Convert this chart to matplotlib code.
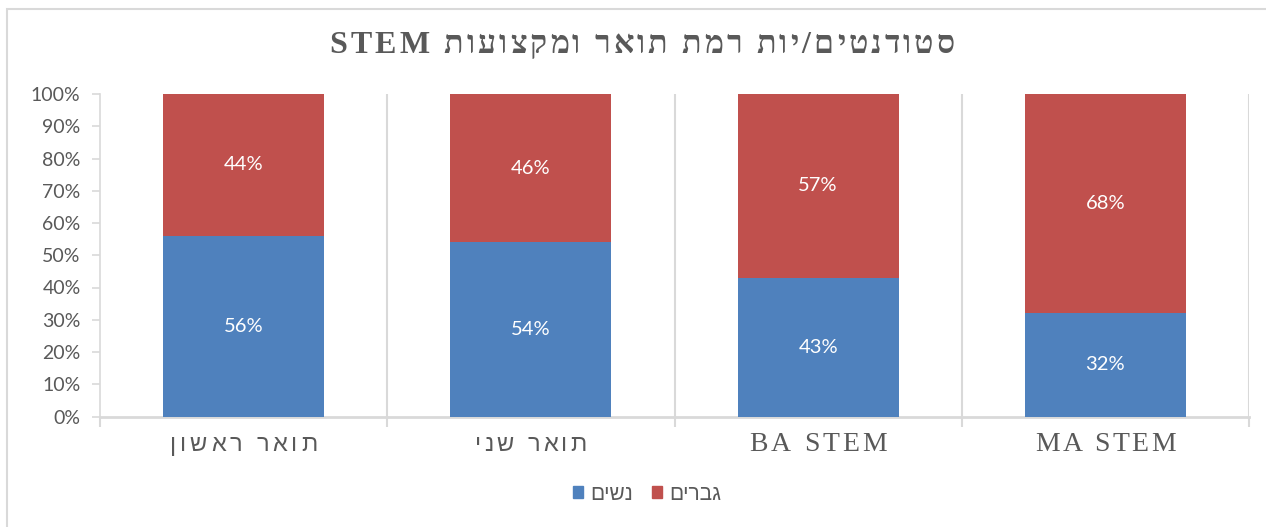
import matplotlib.pyplot as plt
from matplotlib.patches import Rectangle

# ================= Data =================
categories = ["תואר ראשון", "תואר שני", "BA STEM", "MA STEM"]
women = [56, 54, 43, 32]
men = [44, 46, 57, 68]
series_names = ["נשים", "גברים"]
title = "סטודנטים/יות רמת תואר ומקצועות STEM"

BLUE = "#4F81BD"
RED = "#C0504D"
GRAY = "#595959"
GRID = "#D9D9D9"

W, H = 1266, 527


# ================= Text helpers =================
def is_hebrew(word):
    return any("\u0590" <= ch <= "\u05FF" for ch in word)


def rtl(text):
    # matplotlib has no bidi, so build the visual order by hand
    words = text.split(" ")
    return " ".join(w[::-1] if is_hebrew(w) else w for w in reversed(words))


def tracked(fig, s, cx, baseline, target_w, **kw):
    # draw text char by char with letter spacing (pixel coords, top-left origin)
    r = fig.canvas.get_renderer()
    widths = []
    for ch in s:
        if ch == " ":
            t1 = fig.text(0, 0, "x x", **kw)
            t2 = fig.text(0, 0, "xx", **kw)
            w = t1.get_window_extent(r).width - t2.get_window_extent(r).width
            t1.remove()
            t2.remove()
        else:
            t = fig.text(0, 0, ch, **kw)
            w = t.get_window_extent(r).width
            t.remove()
        widths.append(w)
    track = (target_w - sum(widths)) / max(len(s) - 1, 1)
    x = cx - target_w / 2
    for ch, w in zip(s, widths):
        if ch != " ":
            fig.text(x / W, 1 - baseline / H, ch, ha="left", va="baseline", **kw)
        x += w + track


# ================= Figure =================
fig = plt.figure(figsize=(W / 100, H / 100), dpi=100)
ax_left, ax_right, ax_top, ax_bot = 100, 1249, 94, 416.5
ax = fig.add_axes([ax_left / W, 1 - ax_bot / H, (ax_right - ax_left) / W, (ax_bot - ax_top) / H])

# chart border (only top and left visible in the picture)
fig.patches.append(Rectangle((7 / W, -0.05), 1.1, 1 - 9 / H + 0.05,
                             transform=fig.transFigure, fill=False,
                             edgecolor=GRID, linewidth=1.5))

x = list(range(len(categories)))
width = 0.56
b1 = ax.bar(x, women, width, color=BLUE, label=series_names[0], zorder=3)
b2 = ax.bar(x, men, width, bottom=women, color=RED, label=series_names[1], zorder=3)

for bars, vals, base in [(b1, women, [0] * len(women)), (b2, men, women)]:
    for rect, v, b in zip(bars, vals, base):
        ax.text(rect.get_x() + rect.get_width() / 2, b + v / 2, f"{v}%",
                ha="center", va="center", color="white", fontsize=14.5,
                family="Lato", zorder=4)

ax.set_xlim(-0.5, len(categories) - 0.5)
ax.set_ylim(0, 100)
ax.set_yticks(range(0, 101, 10))
ax.set_yticklabels([f"{v}%" for v in range(0, 101, 10)], family="Lato",
                   fontsize=14, color=GRAY)
ax.tick_params(axis="y", length=6, color=GRID, width=1.2, pad=8)

# vertical separators between categories
bounds = [i + 0.5 for i in range(len(categories))]
for b in bounds:
    ax.axvline(b, color=GRID, linewidth=1.5, zorder=1)
ax.set_xticks([-0.5] + bounds)
ax.set_xticklabels([])
ax.tick_params(axis="x", length=7, color=GRID, width=1.5)

for side in ["top", "right"]:
    ax.spines[side].set_visible(False)
ax.spines["left"].set_color(GRID)
ax.spines["left"].set_linewidth(1.2)
ax.spines["bottom"].set_color(GRID)
ax.spines["bottom"].set_linewidth(2)

# category labels, spaced out like the original
label_widths = [147, 112, 137, 140]
cat_w = (ax_right - ax_left) / len(categories)
for i, c in enumerate(categories):
    cx = ax_left + cat_w * (i + 0.5)
    if is_hebrew(c):
        tracked(fig, rtl(c), cx, 451, label_widths[i],
                fontsize=17, color=GRAY, family="Liberation Sans")
    else:
        tracked(fig, c, cx, 451, label_widths[i],
                fontsize=20, color=GRAY, family="Liberation Serif")

# title
tracked(fig, rtl(title), 642, 53, 625, fontsize=23, fontweight="bold",
        color=GRAY, family="Liberation Serif")

handles = [Rectangle((0, 0), 1, 1, color=BLUE), Rectangle((0, 0), 1, 1, color=RED)]
fig.legend(handles, [rtl(n) for n in series_names], loc="center",
           bbox_to_anchor=(647 / W, 1 - 494 / H), ncol=2, frameon=False,
           prop={"family": "Liberation Sans", "size": 15},
           handlelength=0.5, handleheight=0.5, handletextpad=0.35,
           columnspacing=0.9, labelcolor=GRAY)

fig.savefig("out.png", dpi=100)
